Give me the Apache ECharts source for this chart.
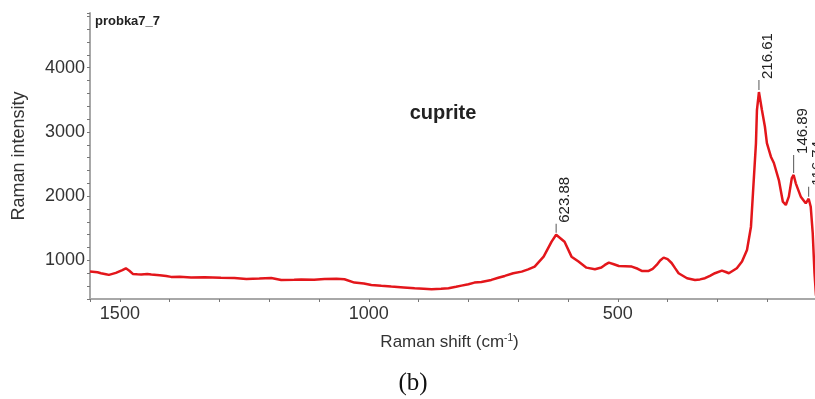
<!DOCTYPE html>
<html>
<head>
<meta charset="utf-8">
<script src="https://cdn.jsdelivr.net/npm/echarts@6/dist/echarts.min.js"></script>
<style>
html,body{margin:0;padding:0;background:#fff;}
#chart{width:815px;height:399px;}
</style>
</head>
<body>
<div id="chart"></div>
<script>
// Raman shift (cm-1), left to right
const shift = [1560,1545,1538,1528,1522,1508,1495,1488,1481,1474,1465,1457,1445,1437,1420,1407,1397,1380,1357,1330,1297,1270,1246,1220,1196,1176,1150,1136,1110,1089,1065,1049,1029,1010,995,975,955,930,908,890,874,855,840,825,814,800,788,774,754,740,727,710,693,680,667,649,633,623.88,607,593,579,563,546,533,526,518,508,498,485,472,460,452,438,430,422,415,408,400,392,385,378,361,345,335,325,315,305,291,283,277,269,261,250.6,240.6,232.6,228.6,222.6,220.6,216.61,210.6,204.6,200.6,192.6,186.6,176.6,168.6,162.6,156.6,150.6,146.89,142.6,132.6,122.6,116.74,112.6,108.6,105,102];
// Raman intensity
const intensity = [829,815,800,785,775,806,850,878,840,790,785,782,790,782,770,759,744,745,736,740,729,725,712,720,728,697,700,705,700,712,715,708,655,640,619,605,593,580,568,560,552,558,568,590,608,630,655,666,697,730,759,800,826,860,904,1059,1292,1400,1292,1059,982,888,863,890,930,966,940,914,910,904,870,837,837,870,930,1000,1044,1020,960,880,801,723,697,705,723,760,801,842,820,801,840,879,982,1163,1525,2045,2822,3340,3620,3340,3080,2826,2614,2516,2251,1914,1863,1992,2280,2330,2200,1992,1889,1960,1836,1427,800,450];
// Annotated peaks
const peakShift = [623.88, 216.61, 146.89, 116.74];
const peakIntensity = [1400, 3620, 2330, 1960];
const peakLabels = ['623.88', '216.61', '146.89', '116.74'];
// Tick settings
const xTickStep = 100, xLabelStep = 500;
const yTickStep = 200, yLabelStep = 1000;

const leaderLen = [9, 10, 18, 10];

const chart = echarts.init(document.getElementById('chart'), null, {renderer: 'canvas'});
const seriesData = shift.map((s, i) => [s, intensity[i]]);
const mp = peakShift.map((s, i) => ({
  coord: [s, peakIntensity[i]],
  name: peakLabels[i],
  symbol: 'rect',
  symbolSize: [1, leaderLen[i]],
  symbolOffset: [0, -(leaderLen[i] / 2 + 2)],
  itemStyle: {color: '#555'},
  label: {
    show: true,
    formatter: peakLabels[i],
    rotate: 90,
    position: 'top',
    distance: 1,
    align: 'left',
    verticalAlign: 'middle',
    offset: [0, 9],
    color: '#222',
    fontSize: 15,
    fontFamily: 'Liberation Sans, Arial, sans-serif'
  }
}));

const font = 'Liberation Sans, Arial, sans-serif';
chart.setOption({
  animation: false,
  backgroundColor: '#fff',
  grid: {left: 90, right: -2, top: 13, bottom: 100, containLabel: false, outerBoundsMode: 'none'},
  xAxis: {
    type: 'value', inverse: true, min: 100, max: 1560, interval: xTickStep,
    name: '{a|Raman shift (cm}{s|-1}{a|)}',
    nameLocation: 'middle', nameGap: 34, nameTextStyle: {
      padding: [0, 8, 0, 0],
      rich: {
        a: {fontSize: 17, color: '#333', fontFamily: font},
        s: {fontSize: 10, color: '#333', fontFamily: font, verticalAlign: 'top', padding: [0, 0, 8, 0]}
      }
    },
    axisLine: {show: true, lineStyle: {color: '#a8a8a8', width: 2}},
    axisTick: {show: true, length: 3, lineStyle: {color: '#777'}},
    splitLine: {show: false},
    axisLabel: {
      color: '#333', fontSize: 18, fontFamily: font, margin: 6,
      formatter: v => (v % xLabelStep === 0 ? String(v) : '')
    }
  },
  yAxis: {
    type: 'value', min: 400, max: 4850, interval: yTickStep,
    name: 'Raman intensity', nameLocation: 'middle', nameGap: 62,
    nameTextStyle: {fontSize: 18, color: '#333', fontFamily: font},
    axisLine: {show: true, lineStyle: {color: '#a8a8a8', width: 2}},
    axisTick: {show: true, length: 3, lineStyle: {color: '#777'}},
    splitLine: {show: false},
    axisLabel: {
      color: '#333', fontSize: 18, fontFamily: font, margin: 5,
      formatter: v => (v % yLabelStep === 0 ? String(v) : '')
    }
  },
  graphic: [
    {type: 'text', left: 95, top: 15, style: {text: 'probka7_7', fontSize: 13, fontWeight: 'bold', fill: '#222', fontFamily: font}},
    {type: 'text', x: 443, y: 113, style: {text: 'cuprite', fontSize: 20, fontWeight: 'bold', fill: '#222', fontFamily: font, textAlign: 'center', textVerticalAlign: 'middle'}},
    {type: 'text', x: 413, y: 383, style: {text: '(b)', fontSize: 25, fill: '#111', fontFamily: 'Liberation Serif, Times New Roman, serif', textAlign: 'center', textVerticalAlign: 'middle'}}
  ],
  series: [{
    type: 'line',
    data: seriesData,
    showSymbol: false,
    smooth: false,
    lineStyle: {color: '#e3161b', width: 2.5},
    itemStyle: {color: '#e3161b'},
    markPoint: {data: mp, silent: true}
  }]
});
</script>
</body>
</html>
